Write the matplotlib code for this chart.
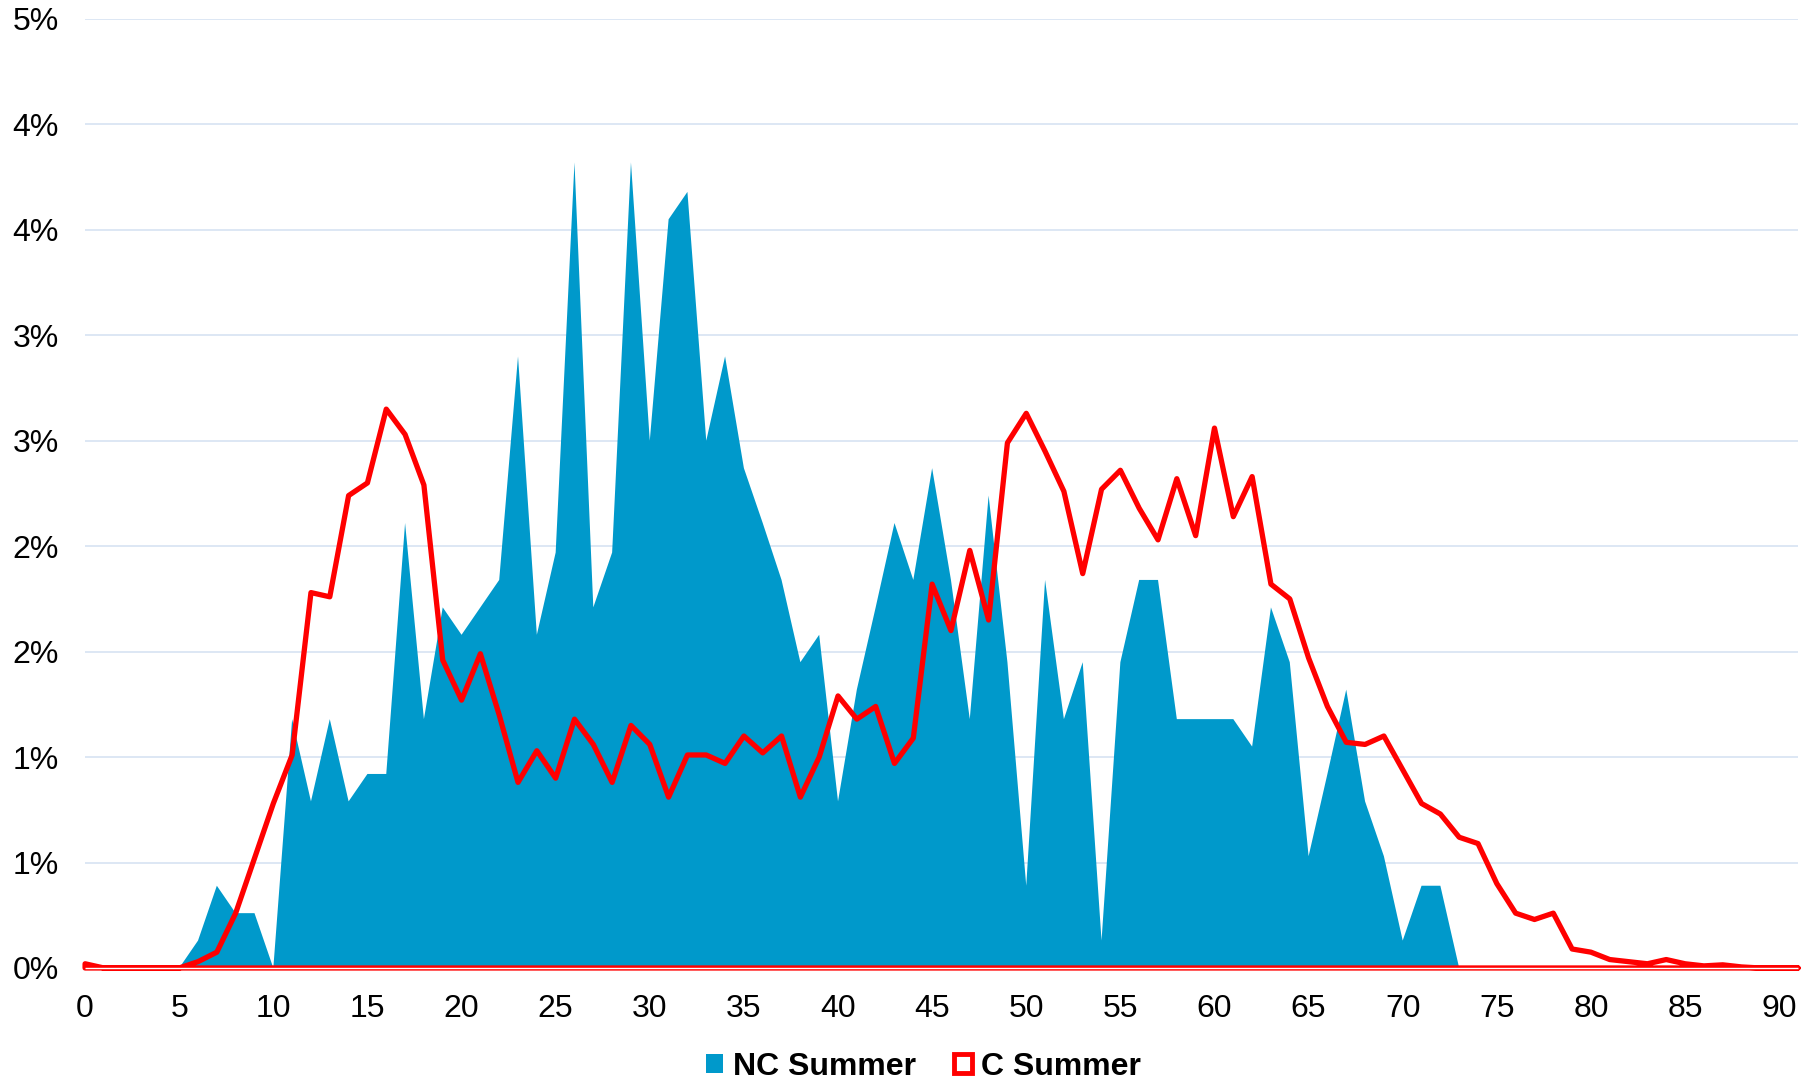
import matplotlib
matplotlib.use("Agg")
import matplotlib.pyplot as plt
from matplotlib.patches import Patch
import numpy as np

plt.rcParams['font.family'] = ['Liberation Sans', 'DejaVu Sans']

# Age (years) on the x axis
ages = list(range(0, 92))

# Share of each age group, in percent
nc_summer = [
    0, 0, 0, 0, 0, 0, 0.13, 0.39, 0.26, 0.26,          # 0-9
    0, 1.18, 0.79, 1.18, 0.79, 0.92, 0.92, 2.11, 1.18, 1.71,  # 10-19
    1.58, 1.71, 1.84, 2.90, 1.58, 1.97, 3.82, 1.71, 1.97, 3.82,  # 20-29
    2.50, 3.55, 3.68, 2.50, 2.90, 2.37, 2.11, 1.84, 1.45, 1.58,  # 30-39
    0.79, 1.32, 1.71, 2.11, 1.84, 2.37, 1.84, 1.18, 2.24, 1.45,  # 40-49
    0.39, 1.84, 1.18, 1.45, 0.13, 1.45, 1.84, 1.84, 1.18, 1.18,  # 50-59
    1.18, 1.18, 1.05, 1.71, 1.45, 0.53, 0.92, 1.32, 0.79, 0.53,  # 60-69
    0.13, 0.39, 0.39, 0, 0, 0, 0, 0, 0, 0,              # 70-79
    0, 0, 0, 0, 0, 0, 0, 0, 0, 0,                       # 80-89
    0, 0,                                               # 90-91
]

c_summer = [
    0.02, 0, 0, 0, 0, 0, 0.03, 0.075, 0.26, 0.52,       # 0-9
    0.78, 1.01, 1.78, 1.76, 2.24, 2.30, 2.65, 2.53, 2.29, 1.46,  # 10-19
    1.27, 1.49, 1.20, 0.88, 1.03, 0.90, 1.18, 1.06, 0.88, 1.15,  # 20-29
    1.06, 0.81, 1.01, 1.01, 0.97, 1.10, 1.02, 1.10, 0.81, 1.00,  # 30-39
    1.29, 1.18, 1.24, 0.97, 1.09, 1.82, 1.60, 1.98, 1.65, 2.49,  # 40-49
    2.63, 2.45, 2.26, 1.87, 2.27, 2.36, 2.18, 2.03, 2.32, 2.05,  # 50-59
    2.56, 2.14, 2.33, 1.82, 1.75, 1.47, 1.24, 1.07, 1.06, 1.10,  # 60-69
    0.94, 0.78, 0.73, 0.62, 0.59, 0.40, 0.26, 0.23, 0.26, 0.09,  # 70-79
    0.075, 0.04, 0.03, 0.02, 0.04, 0.02, 0.01, 0.015, 0.005, 0,  # 80-89
    0, 0,                                                # 90-91
]

x_ticks = list(range(0, 91, 5))
y_ticks = [0, 0.5, 1.0, 1.5, 2.0, 2.5, 3.0, 3.5, 4.0, 4.5]
y_tick_labels = ["0%", "1%", "1%", "2%", "2%", "3%", "3%", "4%", "4%", "5%"]

BLUE = "#0099CB"
RED = "#FF0000"
GRID = "#DAE5F3"

fig = plt.figure(figsize=(18.18, 10.83), dpi=100)
ax = fig.add_axes([0.0468, 0.1062, 0.9422, 0.8763])

x = np.array(ages)
nc = np.array(nc_summer)
c = np.array(c_summer)

# Filled area for NC Summer
ax.fill_between(x, 0, nc, facecolor=BLUE, edgecolor="none", zorder=2)

# C Summer: outlined area without fill
ax.fill_between(x, 0, c, facecolor="none", edgecolor=RED, linewidth=3.8,
                joinstyle="round", zorder=4, clip_on=False)
ax.plot([x[0], x[-1]], [0, 0], color="white", linewidth=1.0,
        zorder=5, clip_on=False, solid_capstyle="butt")

ax.set_xlim(0, 91)
ax.set_ylim(0, 4.5)

ax.set_xticks(x_ticks)
ax.set_xticklabels([str(t) for t in x_ticks])
ax.set_yticks(y_ticks)
ax.set_yticklabels(y_tick_labels)

ax.tick_params(axis="both", length=0, labelsize=23, colors="black")
ax.tick_params(axis="x", pad=19)
ax.tick_params(axis="y", pad=19)

for s in ax.spines.values():
    s.set_visible(False)

ax.grid(axis="y", color=GRID, linewidth=1.3, zorder=0)
ax.grid(axis="x", visible=False)
ax.set_axisbelow(True)

handles = [
    Patch(facecolor=BLUE, edgecolor="none", label="NC Summer"),
    Patch(facecolor="white", edgecolor=RED, linewidth=3.5, label="C Summer"),
]
fig.legend(handles=handles, loc="center", bbox_to_anchor=(0.508, 0.0148),
           ncol=2, frameon=False, handlelength=0.55, handleheight=0.55,
           handletextpad=0.3, columnspacing=1.2, borderpad=0,
           prop={"weight": "bold", "size": 23})

fig.savefig("out.png", dpi=100)
